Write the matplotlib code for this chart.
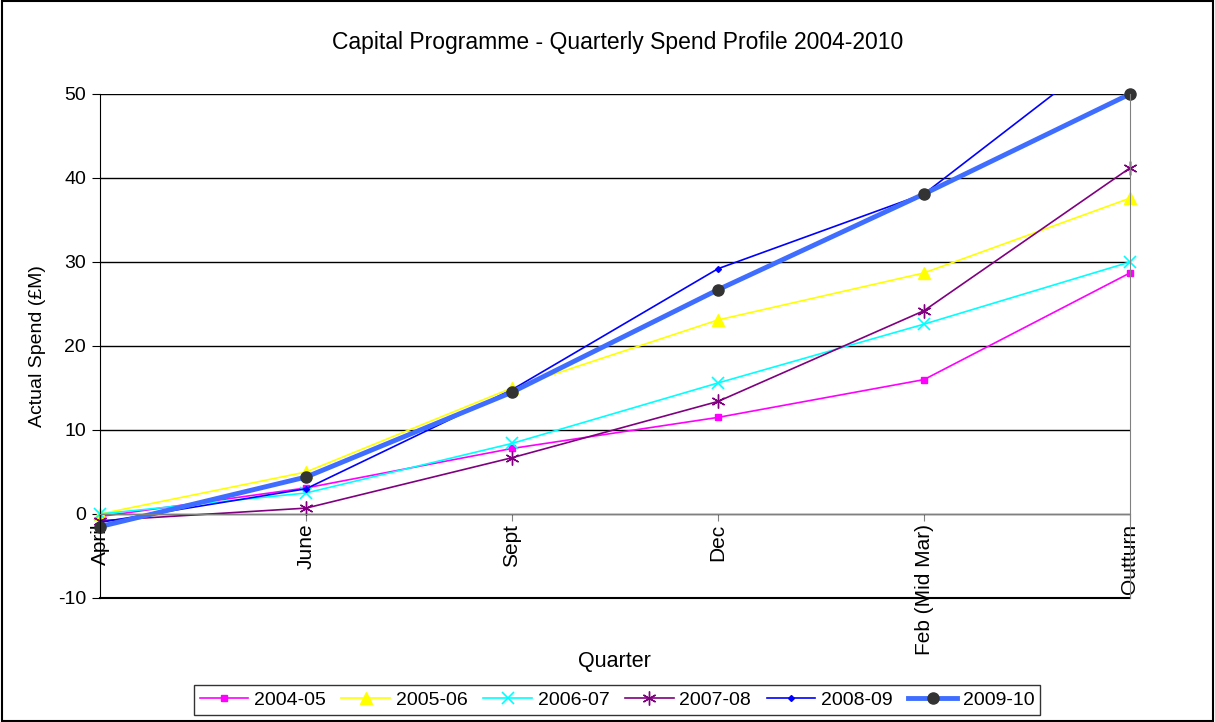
import matplotlib.pyplot as plt
from matplotlib.patches import Rectangle

plt.rcParams['font.family'] = ['Liberation Sans', 'DejaVu Sans']
plt.rcParams['axes.unicode_minus'] = False

# data
quarters = ['April', 'June', 'Sept', 'Dec', 'Feb (Mid Mar)', 'Outturn']
s_2004 = [-0.3, 3.1, 7.8, 11.5, 16.0, 28.7]
s_2005 = [0.0, 5.0, 15.0, 23.1, 28.7, 37.6]
s_2006 = [0.0, 2.5, 8.4, 15.6, 22.6, 30.0]
s_2007 = [-0.8, 0.7, 6.7, 13.4, 24.2, 41.2]
s_2008 = [-1.0, 3.0, 14.8, 29.2, 38.1, 57.0]
s_2009 = [-1.5, 4.4, 14.5, 26.7, 38.1, 50.0]

x = list(range(len(quarters)))

fig = plt.figure(figsize=(12.15, 7.22), dpi=100)
ax = fig.add_axes([100/1215, 1 - 598/722, 1030/1215, 504/722])

# axis crosses at zero (spine move resets ticks, so do it first)
ax.spines['bottom'].set_position(('data', 0))
ax.spines['bottom'].set_color('#808080')
ax.spines['top'].set_visible(False)
ax.spines['right'].set_color('#808080')
ax.spines['left'].set_color('black')

ax.plot(x, s_2004, color='#FF00FF', lw=1.2, marker='s', ms=4, label='2004-05', clip_on=False)
ax.plot(x, s_2005, color='#FFFF00', lw=1.2, marker='^', ms=8, label='2005-06', clip_on=False)
ax.plot(x, s_2006, color='#00FFFF', lw=1.2, marker='x', ms=9, mew=1.2, label='2006-07', clip_on=False)
ax.plot(x, s_2007, color='#800080', lw=1.2, marker=(6, 2, 0), ms=10, mew=1.0, label='2007-08', clip_on=False)
ax.plot(x, s_2008, color='#0000FF', lw=1.2, marker='D', ms=3, label='2008-09')
ax.plot(x, s_2009, color='#3F6DFF', lw=3.5, marker='o', ms=8,
        mfc='#333333', mec='#333333', label='2009-10', clip_on=False)

ax.set_xlim(0, 5)
ax.set_ylim(-10, 50)
ax.set_yticks(range(-10, 51, 10))
ax.set_xticks(x)
ax.set_xticklabels(quarters)
ax.tick_params(axis='x', direction='out', length=5, color='#808080', labelsize=15, pad=2,
               labelrotation=90)
ax.tick_params(axis='y', direction='out', length=6, labelsize=14, pad=4)
for lab in ax.get_xticklabels():
    lab.set_va('top')
    lab.set_ha('center')

ax.yaxis.grid(True, color='black', lw=1.0)
ax.axhline(-10, color='black', lw=1.5, clip_on=False, zorder=0.5)
ax.set_axisbelow(True)

ax.set_ylabel('Actual Spend (£M)', fontsize=14)
ax.yaxis.set_label_coords(-54/1030, 0.5)
fig.text(614/1215, 1 - 662/722, 'Quarter', ha='center', va='center', fontsize=15.5)
fig.text(618/1215, 1 - 42/722, 'Capital Programme - Quarterly Spend Profile 2004-2010',
         ha='center', va='center', fontsize=16.5)

leg = fig.legend(loc='center', bbox_to_anchor=(617/1215, 1 - 700/722), ncol=6,
                 fontsize=14, frameon=True, fancybox=False, handlelength=2.5,
                 handletextpad=0.3, columnspacing=0.8, borderpad=0.3)
leg.get_frame().set_edgecolor('black')
leg.get_frame().set_linewidth(1.0)

fig.patches.append(Rectangle((0.002, 0.002), 0.996, 0.996, transform=fig.transFigure,
                             fill=False, edgecolor='black', lw=1.5))

fig.savefig('out.png', dpi=100)
